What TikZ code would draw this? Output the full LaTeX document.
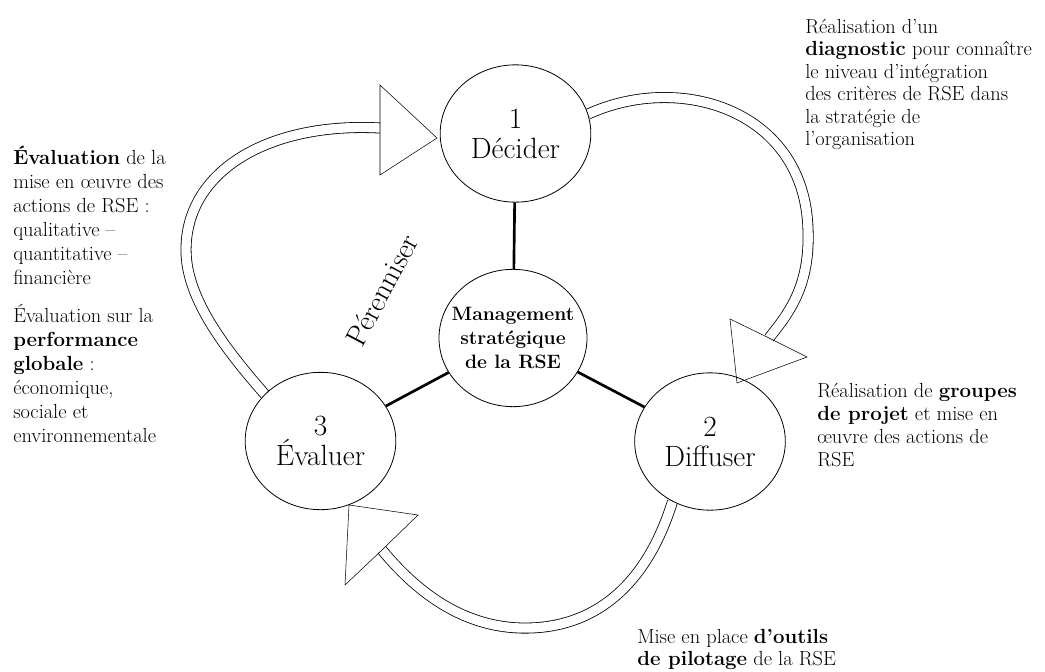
\documentclass[tikz,border=0pt]{standalone}
\usetikzlibrary{shapes.geometric}
\pgfdeclarelayer{back}
\pgfsetlayers{back,main}

\tikzset{every picture/.style={line width=0.6pt}}
\tikzset{
  stage/.style={draw, ellipse, fill=white, inner sep=0pt, minimum width=113pt, minimum height=103pt, align=center, font=\fontsize{22}{22.5}\selectfont},
  hubtext/.style={align=center, font=\fontsize{14.5}{18}\selectfont\bfseries},
  note/.style={anchor=north west, inner sep=0pt, align=left, font=\fontsize{15.3}{16.8}\selectfont},
  spoke/.style={line width=2pt},
  band/.style={double, double distance=7pt, line width=0.6pt},
}

\begin{document}
\begin{tikzpicture}[x=0.75pt,y=0.75pt,yscale=-1,xscale=1]
	\useasboundingbox (0,0) rectangle (1045,671);

	%Shape: Ellipse [id:stages]
	\draw (515.5,133.5) node [stage] (dec) {1\\Décider};
	\draw (710,441.5) node [stage] (dif) {2\\Diffuser};
	\draw (320.5,441) node [stage] (eva) {3\\Évaluer};
	\draw (513,338) node [stage, minimum width=111pt] (hub) {};
	% Text Node
	\draw (hub) node [hubtext] {Management\\stratégique\\de la RSE};

	%Straight Lines [id:spokes]
	\draw [spoke] (dec) -- (hub);
	\draw [spoke] (hub) -- (dif);
	\draw [spoke] (hub) -- (eva);

	%Coordinates at the heads
	\coordinate (endA) at (380,128);
	\coordinate (endB) at (769,338);
	\coordinate (endC) at (382,550);

	%Curve Lines [id:bands]
	\begin{pgfonlayer}{back}
	\draw [band] (eva.140) .. controls (228,352) and (186,300) .. (186,250) .. controls (186,170) and (270,122) .. (endA);
	\draw [band] (dec.15) .. controls (680,72) and (805,110) .. (808,230) .. controls (810,285) and (790,312) .. (endB);
	\draw [band] (dif.238) .. controls (645,590) and (590,630) .. (520,628) .. controls (460,626) and (415,590) .. (endC);
	\end{pgfonlayer}

	%Shape: Triangle [id:heads]
	\draw (endA) -- (380,85) -- (437,138) -- (380,175) -- cycle;
	\draw (endB) -- (730,319) -- (737,383) -- (807,357) -- cycle;
	\draw (endC) -- (418,515) -- (349,505) -- (345,585) -- cycle;

	% Text Node
	\draw (382,290) node [rotate=62, font=\fontsize{22}{24}\selectfont] (per) {Pérenniser};

	% Text Node
	\draw (805,19) node [note] (diag) {Réalisation d’un\\\textbf{diagnostic} pour connaître\\le niveau d’intégration\\des critères de RSE dans\\la stratégie de\\l’organisation};
	% Text Node
	\draw (817,383) node [note, font=\fontsize{15.3}{17.2}\selectfont] (proj) {Réalisation de \textbf{groupes}\\\textbf{de projet} et mise en\\œuvre des actions de\\RSE};
	% Text Node
	\draw (637,629) node [note, font=\fontsize{15.3}{16.5}\selectfont] (pilo) {Mise en place \textbf{d’outils}\\\textbf{de pilotage} de la RSE};
	% Text Node
	\draw (13,146) node [note, font=\fontsize{15.3}{18}\selectfont] (eval) {\textbf{Évaluation} de la\\mise en œuvre des\\actions de RSE :\\qualitative –\\quantitative –\\financière\\[10.5pt]Évaluation sur la\\\textbf{performance}\\\textbf{globale} :\\économique,\\sociale et\\environnementale};

\end{tikzpicture}
\end{document}
